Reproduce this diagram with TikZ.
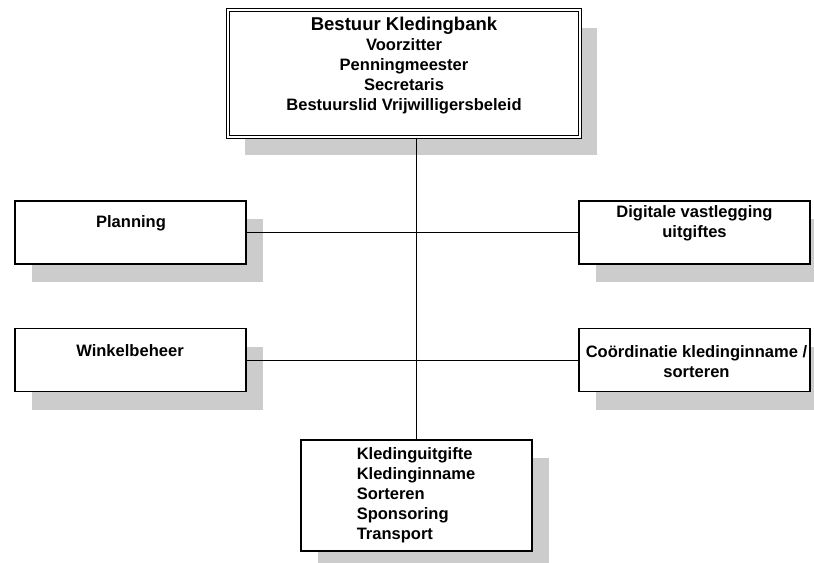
\documentclass[tikz,border=0pt]{standalone}
\usepackage{fontspec}
\setmainfont{Liberation Sans}
\usetikzlibrary{shadows}
\definecolor{shadowgray}{RGB}{204,204,204}

\begin{document}
\begin{tikzpicture}[x=0.75pt, y=-0.75pt,
  box/.style={draw, fill=white, line width=0.8pt, inner sep=0pt,
    minimum width=173.25pt, minimum height=47.25pt,
    drop shadow={shadow xshift=13pt, shadow yshift=-13.75pt, fill=shadowgray, opacity=1}},
  txt/.style={inner sep=0pt, font=\bfseries\fontsize{12.4}{15}\selectfont},
  link/.style={line width=0.6pt}]
\useasboundingbox (0,0) rectangle (814,563);
\clip (0,0) rectangle (814,563);

% Boxes
\node[box, double, double distance=1.2pt, minimum width=264pt, minimum height=95.25pt] (bestuur) at (404,73.5) {};
\node[box] (planning) at (130.5,232.5) {};
\node[box] (digitaal) at (694.5,232.5) {};
\node[box] (winkel) at (130.5,360) {};
\node[box] (coord) at (694.5,360) {};
\node[box, minimum height=83.25pt] (uitgifte) at (416.5,495.5) {};

% Labels
\node[txt, align=center] (bestuur-t) at (404,66) {{\fontsize{13.9}{16.5}\selectfont Bestuur Kledingbank}\\Voorzitter\\Penningmeester\\Secretaris\\Bestuurslid Vrijwilligersbeleid};
\node[txt] (planning-t) at (131,223) {Planning};
\node[txt, align=center] (digitaal-t) at (694.5,223) {Digitale vastlegging\\uitgiftes};
\node[txt] (winkel-t) at (130,351) {Winkelbeheer};
\node[txt, align=center] (coord-t) at (696.5,362) {Coördinatie kledinginname /\\sorteren};
\node[txt, align=left] (uitgifte-t) at (416,495) {Kledinguitgifte\\Kledinginname\\Sorteren\\Sponsoring\\Transport};

% Lines
\draw[link] (bestuur.south -| uitgifte.north) -- (uitgifte.north);
\draw[link] (planning.east) -- (digitaal.west);
\draw[link] (winkel.east) -- (coord.west);
\end{tikzpicture}
\end{document}
